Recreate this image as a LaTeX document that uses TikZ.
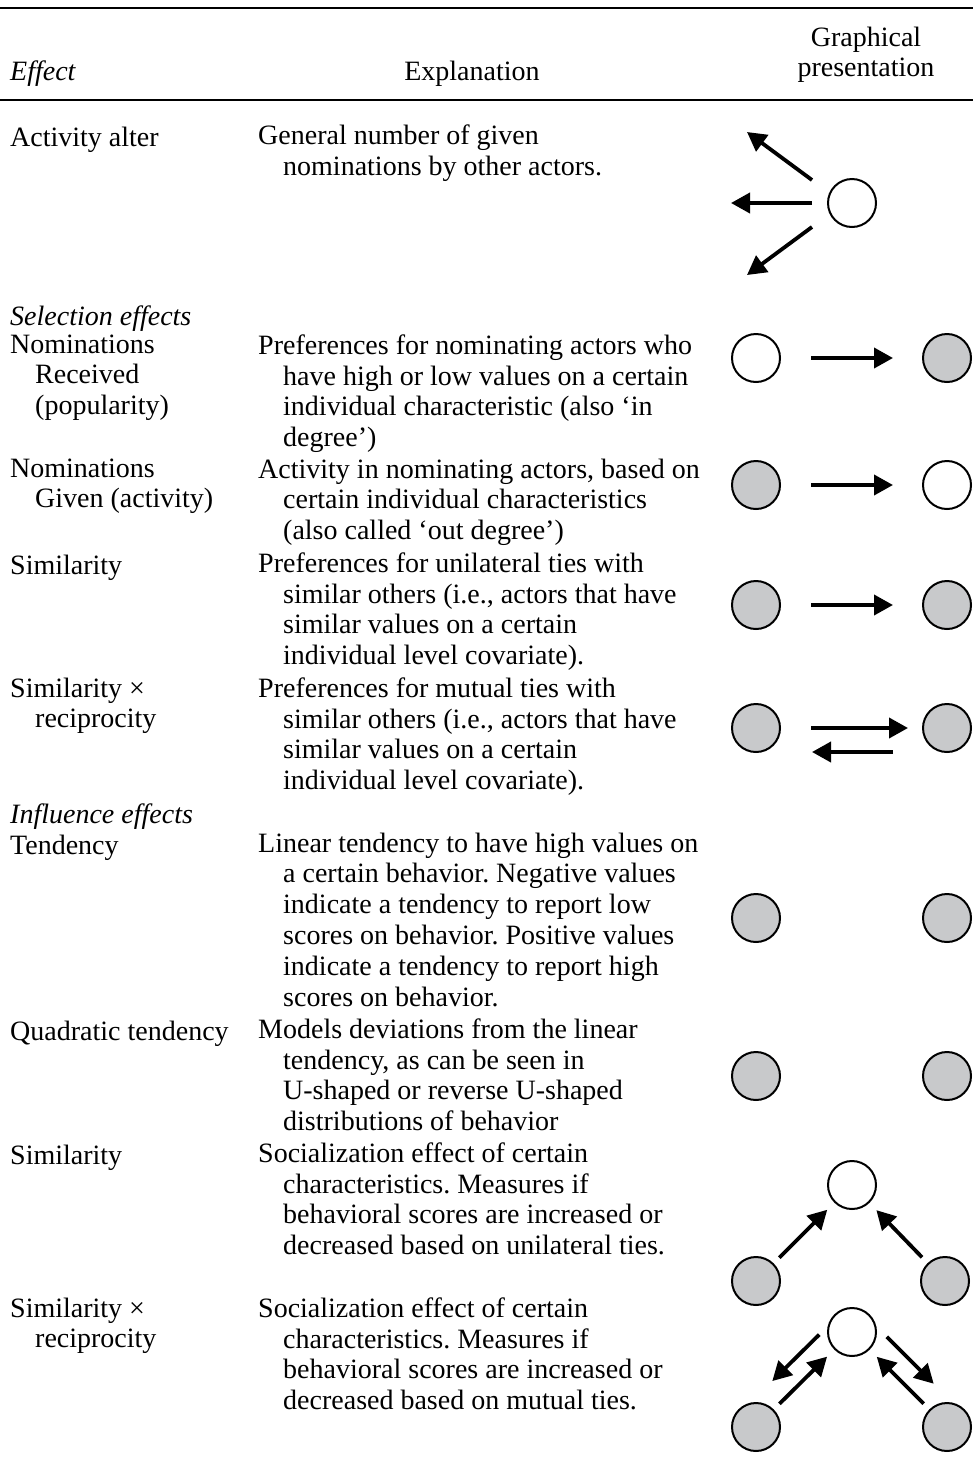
\documentclass[tikz,border=0pt]{standalone}
\usepackage{fontspec}
\setmainfont{Liberation Serif}
\usetikzlibrary{arrows.meta}
\definecolor{nodegray}{RGB}{200,201,203}
\newcommand{\ind}{\hspace*{25pt}}
\frenchspacing

\begin{document}
\begin{tikzpicture}[x=1pt,y=-1pt,
  cell/.style={anchor=north west,inner sep=0pt,yshift=21.56pt,align=left,
    font=\fontsize{28}{30.8}\selectfont,execute at begin node=\strut},
  actor/.style={draw,circle,line width=2pt,minimum size=48pt,inner sep=0pt},
  ego/.style={actor,fill=white},
  alter/.style={actor,fill=nodegray},
  tie/.style={line width=3.8pt,-{Triangle[length=19pt,width=20pt]}},
  rule/.style={line width=1.5pt}]
\useasboundingbox (0,0) rectangle (973,1457);
% rules
\draw[rule] (0,8) -- (973,8);
\draw[rule] (0,100) -- (973,100);
% header
\node[cell] (hEff) at (10,80) {\itshape Effect};
\node[cell,anchor=north] (hExp) at (472,80) {Explanation};
\node[cell,anchor=north,align=center] (hGra) at (866,48) {Graphical\\presentation};
% effects column
\node[cell] (ef1) at (10,146) {Activity alter};
\node[cell] (sel) at (10,325) {\itshape Selection effects};
\node[cell] (ef2) at (10,356) {Nominations\\\ind Received\\\ind (popularity)};
\node[cell] (ef3) at (10,480) {Nominations\\\ind Given (activity)};
\node[cell] (ef4) at (10,574) {Similarity};
\node[cell] (ef5) at (10,699) {Similarity ×\\\ind reciprocity};
\node[cell] (inf) at (10,823) {\itshape Influence effects};
\node[cell] (ef6) at (10,854) {Tendency};
\node[cell] (ef7) at (10,1040) {Quadratic tendency};
\node[cell] (ef8) at (10,1164) {Similarity};
\node[cell] (ef9) at (10,1319) {Similarity ×\\\ind reciprocity};
% explanation column
\node[cell] (ex1) at (258,146) {General number of given\\\ind nominations by other actors.};
\node[cell] (ex2) at (258,356) {Preferences for nominating actors who\\\ind have high or low values on a certain\\\ind individual characteristic (also ‘in\\\ind degree’)};
\node[cell] (ex3) at (258,480) {Activity in nominating actors, based on\\\ind certain individual characteristics\\\ind (also called ‘out degree’)};
\node[cell] (ex4) at (258,574) {Preferences for unilateral ties with\\\ind similar others (i.e., actors that have\\\ind similar values on a certain\\\ind individual level covariate).};
\node[cell] (ex5) at (258,699) {Preferences for mutual ties with\\\ind similar others (i.e., actors that have\\\ind similar values on a certain\\\ind individual level covariate).};
\node[cell] (ex6) at (258,854) {Linear tendency to have high values on\\\ind a certain behavior. Negative values\\\ind indicate a tendency to report low\\\ind scores on behavior. Positive values\\\ind indicate a tendency to report high\\\ind scores on behavior.};
\node[cell] (ex7) at (258,1040) {Models deviations from the linear\\\ind tendency, as can be seen in\\\ind U-shaped or reverse U-shaped\\\ind distributions of behavior};
\node[cell] (ex8) at (258,1164) {Socialization effect of certain\\\ind characteristics. Measures if\\\ind behavioral scores are increased or\\\ind decreased based on unilateral ties.};
\node[cell] (ex9) at (258,1319) {Socialization effect of certain\\\ind characteristics. Measures if\\\ind behavioral scores are increased or\\\ind decreased based on mutual ties.};
% activity alter
\node[ego] (aa) at (852,203) {};
\coordinate (aaOut1) at (812,180);
\coordinate (aaTip1) at (747,132);
\coordinate (aaOut2) at (812,203);
\coordinate (aaTip2) at (731,203);
\coordinate (aaOut3) at (812,227);
\coordinate (aaTip3) at (747,275);
\draw[tie] (aaOut1) -- (aaTip1);
\draw[tie] (aaOut2) -- (aaTip2);
\draw[tie] (aaOut3) -- (aaTip3);
% selection effects
\node[ego] (s1a) at (756,358) {};
\node[alter] (s1b) at (947,358) {};
\node[alter] (s2a) at (756,485) {};
\node[ego] (s2b) at (947,485) {};
\node[alter] (s3a) at (756,605) {};
\node[alter] (s3b) at (947,605) {};
\node[alter] (s4a) at (756,728) {};
\node[alter] (s4b) at (947,728) {};
\draw[tie,shorten <=30pt,shorten >=29pt] (s1a) -- (s1b);
\draw[tie,shorten <=30pt,shorten >=29pt] (s2a) -- (s2b);
\draw[tie,shorten <=30pt,shorten >=29pt] (s3a) -- (s3b);
\draw[tie,shorten <=30pt,shorten >=14pt] (s4a) -- (s4b);
\draw[tie,shorten <=29pt,shorten >=31pt] ([yshift=-24pt]s4b.west) -- ([yshift=-24pt]s4a.east);
% influence effects
\node[alter] (t1a) at (756,918) {};
\node[alter] (t1b) at (947,918) {};
\node[alter] (q1a) at (756,1076) {};
\node[alter] (q1b) at (947,1076) {};
\node[ego] (i1w) at (852,1185) {};
\node[alter] (i1l) at (756,1281) {};
\node[alter] (i1r) at (945,1281) {};
\draw[tie,shorten <=8pt,shorten >=10pt] (i1l) -- (i1w);
\draw[tie,shorten <=8pt,shorten >=10pt] (i1r) -- (i1w);
\node[ego] (i2w) at (852,1332) {};
\node[alter] (i2l) at (756,1427) {};
\node[alter] (i2r) at (947,1427) {};
\draw[tie,shorten <=8pt,shorten >=10pt] (i2l) -- (i2w);
\draw[tie,shorten <=8pt,shorten >=10pt] (i2r) -- (i2w);
\draw[tie,shorten <=25pt,shorten >=44pt] ([xshift=-15pt,yshift=15pt]i2w.center) -- ([xshift=-15pt,yshift=15pt]i2l.center);
\draw[tie,shorten <=28pt,shorten >=40pt] ([xshift=15pt,yshift=15pt]i2w.center) -- ([xshift=15pt,yshift=15pt]i2r.center);
\end{tikzpicture}
\end{document}
